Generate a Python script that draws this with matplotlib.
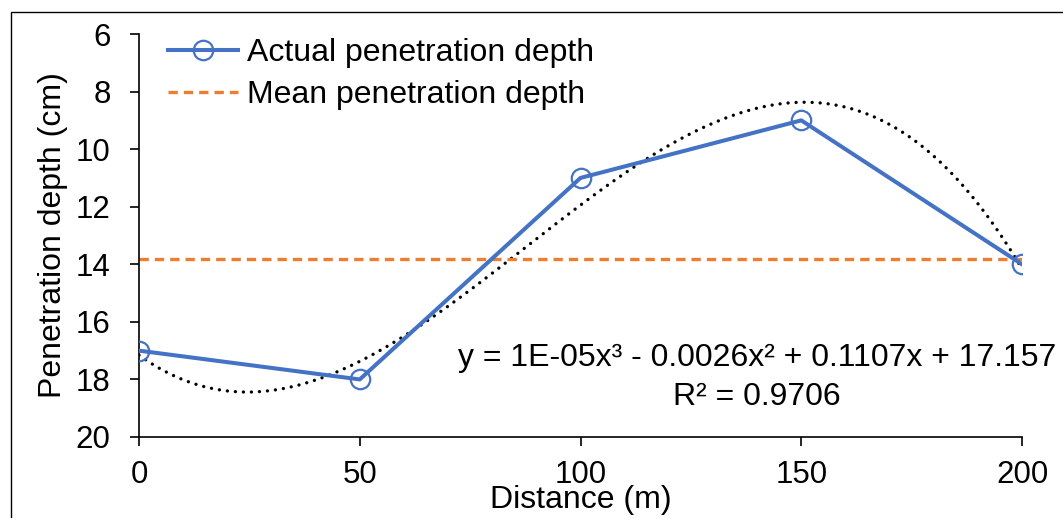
import numpy as np
import matplotlib.pyplot as plt
from matplotlib.patches import Rectangle

plt.rcParams['font.family'] = ['Liberation Sans', 'DejaVu Sans']

# data
distance = [0, 50, 100, 150, 200]
depth = [17, 18, 11, 9, 14]
x_ticks = [0, 50, 100, 150, 200]
y_ticks = [6, 8, 10, 12, 14, 16, 18, 20]
eq_line = 'y = 1E-05x³ - 0.0026x² + 0.1107x + 17.157'
r2_line = 'R² = 0.9706'

mean_depth = np.mean(depth)
coef = np.polyfit(distance, depth, 3)
xfit = np.linspace(0, 200, 300)
yfit = np.polyval(coef, xfit)

fig = plt.figure(figsize=(10.63, 5.18), dpi=100)
ax = fig.add_axes([139 / 1063, 1 - 437 / 518, (1022 - 139) / 1063, (437 - 34) / 518])

# outer frame of the chart area (right and bottom sides are cut off)
fig.patches.append(Rectangle((11 / 1063, -0.1), 1.2, 1 - 12 / 518 + 0.1, transform=fig.transFigure,
                             fill=False, edgecolor='black', linewidth=1.0))

ax.plot(xfit, yfit, color='black', linewidth=2.4, linestyle=(0, (0.01, 2.4)),
        dash_capstyle='round', label='_nolegend_')
ax.plot(distance, depth, '-o', color='#4472C4', linewidth=2.9, markersize=14,
        markerfacecolor='none', markeredgewidth=1.6, label='Actual penetration depth', zorder=3)
ax.plot([0, 200], [mean_depth, mean_depth], color='#ED7D31', linewidth=2.4,
        linestyle=(0, (2.8, 1.8)), label='Mean penetration depth')

ax.set_xlim(0, 200)
ax.set_ylim(20, 6)
ax.set_xticks(x_ticks)
ax.set_yticks(y_ticks)
ax.tick_params(labelsize=22.5, length=6.5, width=1.2)
ax.tick_params(axis='x', pad=10)
ax.tick_params(axis='y', pad=14)
for s in ['top', 'right']:
    ax.spines[s].set_visible(False)
for s in ['left', 'bottom']:
    ax.spines[s].set_linewidth(1.2)

ax.set_xlabel('Distance (m)', fontsize=23)
ax.xaxis.set_label_coords(0.5, -0.12)
ax.set_ylabel('Penetration depth (cm)', fontsize=23)
ax.yaxis.set_label_coords(-0.08, 0.5)

ax.text(140, 17.26, eq_line, fontsize=23, ha='center', va='center')
ax.text(140, 18.61, r2_line, fontsize=23, ha='center', va='center')

ax.legend(loc='upper left', bbox_to_anchor=(0.033, 0.99), frameon=False, fontsize=23,
          handlelength=2.2, handletextpad=0.28, labelspacing=0.37, borderaxespad=0, borderpad=0)

fig.savefig('out.png', dpi=100)
